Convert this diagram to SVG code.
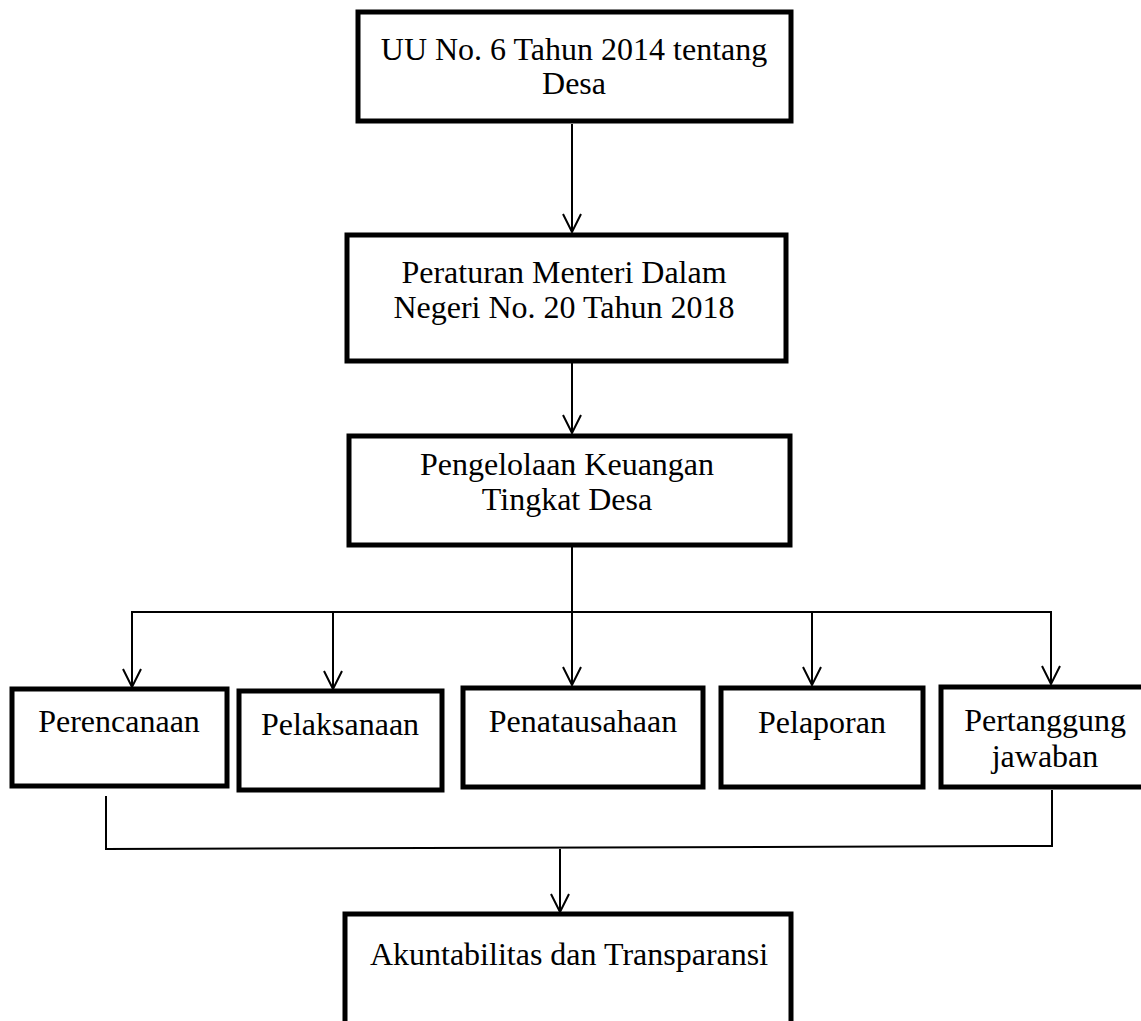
<svg xmlns="http://www.w3.org/2000/svg" width="1141" height="1021" viewBox="0 0 1141 1021">
<style>
.box{fill:#fff;stroke:#000;stroke-width:5}
.t{font-family:"Liberation Serif","Times New Roman",serif;font-size:32px;fill:#000;text-anchor:middle}
.c{fill:none;stroke:#000;stroke-width:2}
</style>
<defs>
<marker id="ah" viewBox="0 0 20 20" refX="19" refY="10" markerWidth="20" markerHeight="20" markerUnits="userSpaceOnUse" orient="auto">
<path d="M1,1 L19,10 L1,19" fill="none" stroke="#000" stroke-width="2"/>
</marker>
</defs>
<rect width="1141" height="1021" fill="#fff"/>
<g id="connectors">
<line class="c" x1="572" y1="124" x2="572" y2="232" marker-end="url(#ah)"/>
<line class="c" x1="572" y1="354" x2="572" y2="433" marker-end="url(#ah)"/>
<line class="c" x1="572" y1="547" x2="572" y2="685" marker-end="url(#ah)"/>
<line class="c" x1="132" y1="612" x2="1051" y2="612"/>
<line class="c" x1="132" y1="611" x2="132" y2="687" marker-end="url(#ah)"/>
<line class="c" x1="333" y1="611" x2="333" y2="689" marker-end="url(#ah)"/>
<line class="c" x1="812" y1="611" x2="812" y2="685" marker-end="url(#ah)"/>
<line class="c" x1="1051" y1="611" x2="1051" y2="684" marker-end="url(#ah)"/>
<line class="c" x1="106" y1="796" x2="106" y2="849"/>
<line class="c" x1="1052" y1="790" x2="1052" y2="847"/>
<line class="c" x1="105" y1="849" x2="1053" y2="846"/>
<line class="c" x1="560" y1="849" x2="560" y2="912" marker-end="url(#ah)"/>
</g>
<g id="n1">
<rect class="box" x="358" y="12" width="433" height="109"/>
<text class="t" x="574" y="60">UU No. 6 Tahun 2014 tentang</text>
<text class="t" x="574" y="94">Desa</text>
</g>
<g id="n2">
<rect class="box" x="347" y="235" width="439" height="126"/>
<text class="t" x="564" y="283">Peraturan Menteri Dalam</text>
<text class="t" x="564" y="318">Negeri No. 20 Tahun 2018</text>
</g>
<g id="n3">
<rect class="box" x="349" y="436" width="441" height="109"/>
<text class="t" x="567" y="475">Pengelolaan Keuangan</text>
<text class="t" x="567" y="510">Tingkat Desa</text>
</g>
<g id="n4">
<rect class="box" x="12" y="689" width="215" height="97"/>
<text class="t" x="119" y="732">Perencanaan</text>
</g>
<g id="n5">
<rect class="box" x="239" y="691" width="203" height="99"/>
<text class="t" x="340" y="735">Pelaksanaan</text>
</g>
<g id="n6">
<rect class="box" x="463" y="688" width="240" height="99"/>
<text class="t" x="583" y="732">Penatausahaan</text>
</g>
<g id="n7">
<rect class="box" x="721" y="688" width="202" height="99"/>
<text class="t" x="822" y="733">Pelaporan</text>
</g>
<g id="n8">
<rect class="box" x="941" y="687" width="205" height="100"/>
<text class="t" x="1045" y="731">Pertanggung</text>
<text class="t" x="1045" y="767">jawaban</text>
</g>
<g id="n9">
<rect class="box" x="345" y="914" width="446" height="130"/>
<text class="t" x="569" y="965">Akuntabilitas dan Transparansi</text>
</g>
</svg>
